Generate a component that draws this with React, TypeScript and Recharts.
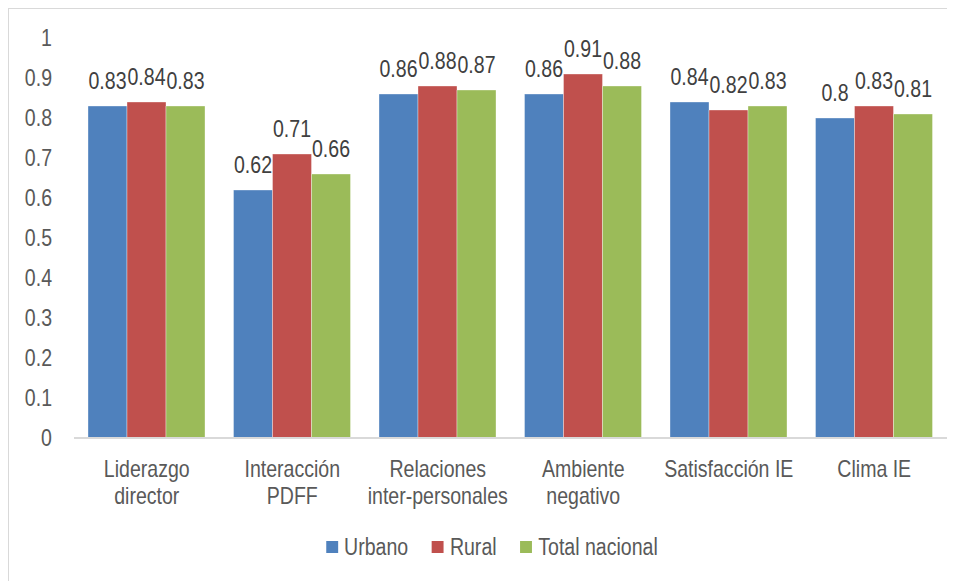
import { BarChart, Bar, XAxis, YAxis, Legend, LabelList } from "recharts";

const categories = [
  "Liderazgo\ndirector",
  "Interacción\nPDFF",
  "Relaciones\ninter-personales",
  "Ambiente\nnegativo",
  "Satisfacción IE",
  "Clima IE",
];
const urbano = [0.83, 0.62, 0.86, 0.86, 0.84, 0.8];
const rural = [0.84, 0.71, 0.88, 0.91, 0.82, 0.83];
const totalNacional = [0.83, 0.66, 0.87, 0.88, 0.83, 0.81];
const yTicks = [0, 0.1, 0.2, 0.3, 0.4, 0.5, 0.6, 0.7, 0.8, 0.9, 1];

const series = [
  { key: "urbano", name: "Urbano", color: "#4F81BD" },
  { key: "rural", name: "Rural", color: "#C0504D" },
  { key: "total", name: "Total nacional", color: "#9BBB59" },
];

const data = categories.map((c, i) => ({
  name: c,
  urbano: urbano[i],
  rural: rural[i],
  total: totalNacional[i],
}));

// narrow look (Arial Narrow is not installed): squeeze Liberation Sans horizontally
const FONT = "'Liberation Sans', Arial, sans-serif";
const SQUEEZE = 0.85;
const FS = 23;

function CategoryTick(props: any) {
  const { x, y, payload } = props;
  const lines = String(payload.value).split("\n");
  return (
    <g transform={`translate(${x},${y}) scale(${SQUEEZE},1)`}>
      <text x={0} y={0} textAnchor="middle" fill="#595959" fontSize={FS} fontFamily={FONT}>
        {lines.map((l, i) => (
          <tspan key={i} x={0} dy={i === 0 ? 31 : 27}>
            {l}
          </tspan>
        ))}
      </text>
    </g>
  );
}

function ValueTick(props: any) {
  const { x, y, payload } = props;
  return (
    <g transform={`translate(${x},${y}) scale(${SQUEEZE},1)`}>
      <text x={0} y={0} dy="0.355em" textAnchor="end" fill="#595959" fontSize={FS} fontFamily={FONT}>
        {String(payload.value)}
      </text>
    </g>
  );
}

function BarLabel(props: any) {
  const { x, y, width, value } = props;
  return (
    <g transform={`translate(${x + width / 2},${y - 17}) scale(${SQUEEZE},1)`}>
      <text x={0} y={0} textAnchor="middle" fill="#404040" fontSize={FS} fontFamily={FONT}>
        {String(value)}
      </text>
    </g>
  );
}

function LegendRow() {
  return (
    <div style={{ textAlign: "center", paddingLeft: 29 }}>
      <div
        style={{
          display: "inline-flex",
          transform: `scaleX(${SQUEEZE})`,
          transformOrigin: "center",
          fontFamily: FONT,
          fontSize: FS,
          color: "#595959",
          lineHeight: "26px",
        }}
      >
        {series.map((s, i) => (
          <div
            key={s.key}
            style={{ display: "flex", alignItems: "center", marginRight: i < series.length - 1 ? 28 : 0 }}
          >
            <span style={{ width: 14, height: 12, background: s.color, marginRight: 7, display: "inline-block" }} />
            <span>{s.name}</span>
          </div>
        ))}
      </div>
    </div>
  );
}

export default function App() {
  return (
    <div
      style={{
        width: 946,
        height: 572,
        borderTop: "1px solid #D9D9D9",
        borderLeft: "1px solid #D9D9D9",
        background: "#fff",
      }}
    >
      <BarChart
        width={938}
        height={572}
        data={data}
        margin={{ top: 29, right: 0, bottom: 47, left: 20 }}
        barCategoryGap={14}
        barGap={0}
      >
        <XAxis
          dataKey="name"
          interval={0}
          tickLine={false}
          axisLine={{ stroke: "#D9D9D9", strokeWidth: 2 }}
          tick={<CategoryTick />}
          height={70}
        />
        <YAxis
          domain={[0, 1]}
          ticks={yTicks}
          interval={0}
          axisLine={false}
          tickLine={false}
          tickMargin={16}
          width={45}
          tick={<ValueTick />}
        />
        <Legend
          content={<LegendRow />}
          wrapperStyle={{ position: "absolute", left: 0, top: 525, width: 938 }}
        />
        {series.map((s) => (
          <Bar
            key={s.key}
            dataKey={s.key}
            name={s.name}
            fill={s.color}
            stroke="#ffffff"
            strokeOpacity={0.35}
            strokeWidth={1}
            isAnimationActive={false}
          >
            <LabelList dataKey={s.key} content={<BarLabel />} />
          </Bar>
        ))}
      </BarChart>
    </div>
  );
}
